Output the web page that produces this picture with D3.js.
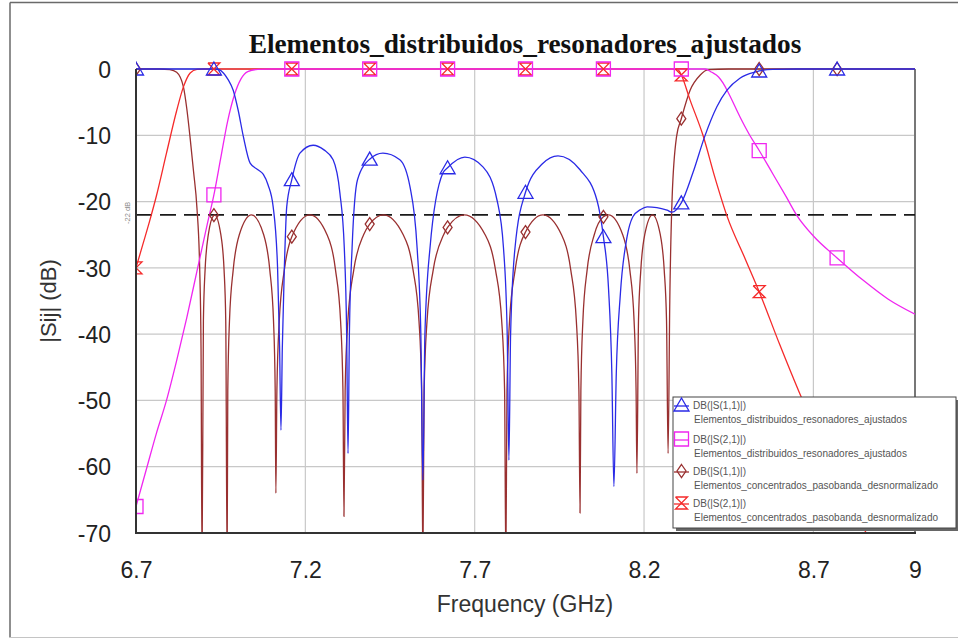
<!DOCTYPE html>
<html>
<head>
<meta charset="utf-8">
<script src="https://cdn.jsdelivr.net/npm/d3@7/dist/d3.min.js"></script>
<style>
  html, body { margin: 0; padding: 0; background: #fff; }
  svg { display: block; }
</style>
</head>
<body>
<svg id="chart" width="958" height="639"></svg>
<script>
// Axis ticks and reference level
const freqTicks = [6.7, 7.2, 7.7, 8.2, 8.7, 9];
const dbTicks = [0, -10, -20, -30, -40, -50, -60, -70];
const rippleLevel = -22;
const markerFreqs = [6.7, 6.93, 7.16, 7.39, 7.62, 7.85, 8.08, 8.31, 8.54, 8.77];

// DB(|S(1,1)|) - distributed elements, tuned resonators  [GHz, dB]
const s11Distribuidos = [
  [6.70, 0], [6.93, 0], [6.945, -0.1], [6.958, -0.6], [6.972, -1.6], [6.987, -3.2],
  [7.002, -6.3], [7.017, -10.2], [7.037, -14.2], [7.06, -15.2], [7.076, -15.9],
  [7.09, -17.5], [7.105, -20.8], [7.118, -30], [7.124, -42], [7.128, -54.5],
  [7.132, -42], [7.138, -30], [7.145, -20.8], [7.16, -16.7], [7.184, -12.7],
  [7.223, -11.5], [7.255, -12.2], [7.282, -13.7], [7.302, -18.7], [7.315, -27],
  [7.322, -40], [7.326, -58], [7.330, -40], [7.338, -27], [7.354, -16.7],
  [7.39, -13.6], [7.429, -12.7], [7.479, -13.7], [7.509, -17.8], [7.53, -27],
  [7.541, -40], [7.547, -62], [7.553, -40], [7.568, -27], [7.606, -15.7],
  [7.62, -14.9], [7.671, -13.3], [7.725, -14.8], [7.766, -19.8], [7.785, -27],
  [7.796, -40], [7.801, -59], [7.806, -40], [7.819, -27], [7.85, -18.6],
  [7.90, -14.3], [7.946, -13.1], [8.011, -15.2], [8.061, -19.8], [8.08, -25.3],
  [8.095, -33], [8.105, -46], [8.111, -63], [8.118, -46], [8.13, -34],
  [8.150, -25.3], [8.167, -22.3], [8.19, -21.2], [8.209, -20.8], [8.238, -20.9],
  [8.268, -21.3], [8.283, -21.6], [8.31, -20.2], [8.344, -15.7], [8.379, -10.2],
  [8.415, -5.7], [8.445, -3.2], [8.483, -1.4], [8.533, -0.4], [8.54, -0.3],
  [8.58, -0.05], [8.65, 0], [8.77, 0], [9.0, 0]
];

// DB(|S(2,1)|) - distributed elements, tuned resonators
const s21Distribuidos = [
  [6.70, -66], [6.73, -60.5], [6.76, -55], [6.79, -50], [6.82, -44], [6.85, -37.5],
  [6.88, -30.5], [6.91, -23.5], [6.93, -19], [6.95, -13.5], [6.97, -8], [6.99, -4],
  [7.01, -1.5], [7.03, -0.4], [7.06, -0.05], [7.10, 0], [7.16, 0], [7.39, 0],
  [7.62, 0], [7.85, 0], [8.08, 0], [8.31, 0], [8.38, 0], [8.40, -0.5], [8.42, -1.2],
  [8.433, -2.1], [8.45, -3.7], [8.483, -7.2], [8.51, -9.8], [8.54, -12.3],
  [8.58, -15.8], [8.62, -19.3], [8.65, -22], [8.70, -25.2], [8.77, -28.5],
  [8.85, -32], [8.92, -34.7], [9.0, -37]
];

// DB(|S(1,1)|) - lumped elements, denormalized bandpass
const s11Concentrados = [
  [6.70, 0], [6.77, 0], [6.80, -0.1], [6.82, -0.5], [6.84, -2.7], [6.85, -6],
  [6.86, -10.5], [6.87, -15.5], [6.88, -21], [6.888, -30], [6.892, -42], [6.895, -75],
  [6.899, -38], [6.904, -30.3], [6.9135, -25], [6.93, -22.05], [6.932, -22],
  [6.9505, -25], [6.960, -30.3], [6.965, -38], [6.969, -75],
  [6.971, -48.5], [6.976, -38], [6.987, -30.3], [7.005, -25], [7.041, -22],
  [7.077, -25], [7.095, -30.3], [7.106, -38], [7.111, -48.5], [7.113, -64],
  [7.116, -48.5], [7.123, -38], [7.138, -30.3], [7.16, -25.3], [7.2135, -22],
  [7.264, -25], [7.289, -30.3], [7.304, -38], [7.311, -48.5], [7.314, -67.5],
  [7.3175, -48.5], [7.3255, -38], [7.343, -30.3], [7.372, -25], [7.39, -23.4],
  [7.4305, -22], [7.489, -25], [7.518, -30.3], [7.5355, -38], [7.5435, -48.5], [7.547, -75],
  [7.5507, -48.5], [7.5593, -38], [7.5776, -30.3], [7.6083, -25], [7.62, -23.9],
  [7.6695, -22], [7.7308, -25], [7.7614, -30.3], [7.7797, -38], [7.7883, -48.5], [7.792, -75],
  [7.7953, -48.5], [7.8029, -38], [7.8194, -30.3], [7.85, -24.6], [7.9015, -22],
  [7.9563, -25], [7.9836, -30.3], [8.0001, -38], [8.0077, -48.5], [8.011, -67],
  [8.0135, -48.5], [8.0194, -38], [8.032, -30.3], [8.053, -25], [8.08, -22.3],
  [8.095, -22], [8.137, -25], [8.158, -30.3], [8.1706, -38], [8.1765, -48.5], [8.179, -61],
  [8.1836, -38], [8.1905, -30.3], [8.202, -25], [8.225, -22], [8.248, -25],
  [8.2595, -30.3], [8.2664, -38], [8.271, -58],
  [8.276, -35], [8.283, -19.3], [8.296, -10.2], [8.31, -7.5], [8.336, -3.2],
  [8.366, -0.9], [8.39, -0.1], [8.45, 0], [8.54, 0], [8.77, 0], [9.0, 0]
];

// DB(|S(2,1)|) - lumped elements, denormalized bandpass
const s21Concentrados = [
  [6.70, -30], [6.72, -26.5], [6.741, -22.8], [6.76, -19.2], [6.79, -12.7],
  [6.82, -6.3], [6.84, -2.7], [6.86, -0.6], [6.88, -0.05], [6.90, 0], [6.93, 0],
  [7.16, 0], [7.39, 0], [7.62, 0], [7.85, 0], [8.08, 0], [8.28, 0], [8.30, -0.1],
  [8.31, -0.9], [8.336, -4.7], [8.374, -10], [8.41, -16.5], [8.445, -22.2],
  [8.50, -28.8], [8.54, -33.6], [8.60, -41.5], [8.66, -49], [8.72, -56],
  [8.77, -61.5], [8.84, -68.5], [8.90, -74]
];

const legendNames = [
  ["DB(|S(1,1)|)", "Elementos_distribuidos_resonadores_ajustados"],
  ["DB(|S(2,1)|)", "Elementos_distribuidos_resonadores_ajustados"],
  ["DB(|S(1,1)|)", "Elementos_concentrados_pasobanda_desnormalizado"],
  ["DB(|S(2,1)|)", "Elementos_concentrados_pasobanda_desnormalizado"]
];

// Marker outlines, centred on the data point
const markerPaths = {
  triangle: "M0,-7L7.5,6L-7.5,6Z",
  square: "M-7,-7H7V7H-7Z",
  diamond: "M0,-6.5L4.5,0L0,6.5L-4.5,0Z",
  hourglass: "M-6,-6H6L-6,6H6L-6,-6"
};

const series = [
  { data: s11Distribuidos, color: "#2a2ae6", marker: "triangle", legend: legendNames[0], order: 3 },
  { data: s21Distribuidos, color: "#f026f0", marker: "square", legend: legendNames[1], order: 2 },
  { data: s11Concentrados, color: "#993030", marker: "diamond", legend: legendNames[2], order: 0 },
  { data: s21Concentrados, color: "#f52a2a", marker: "hourglass", legend: legendNames[3], order: 1 }
];

const svg = d3.select("#chart");
const W = 958, H = 639;
const plot = { left: 136, right: 915, top: 69, bottom: 533 };

const x = d3.scaleLinear().domain([6.7, 9.0]).range([plot.left, plot.right]);
const y = d3.scaleLinear().domain([-70, 0]).range([plot.bottom, plot.top]);

const sans = "'Liberation Sans', Arial, Helvetica, sans-serif";

// Outer frame
svg.append("line").attr("x1", 10).attr("y1", 2.5).attr("x2", W).attr("y2", 2.5)
  .attr("stroke", "#6a6a6a").attr("stroke-width", 1.5);
svg.append("line").attr("x1", 10).attr("y1", 2.5).attr("x2", 10).attr("y2", 637.5)
  .attr("stroke", "#6a6a6a").attr("stroke-width", 1.5);
svg.append("line").attr("x1", 10).attr("y1", 637.5).attr("x2", W).attr("y2", 637.5)
  .attr("stroke", "#c4c4c4").attr("stroke-width", 1.2);

// Title
svg.append("text")
  .attr("x", 525).attr("y", 53)
  .attr("text-anchor", "middle")
  .attr("font-family", "'Liberation Serif', 'Times New Roman', serif")
  .attr("font-weight", "bold")
  .attr("font-size", 27.3)
  .attr("fill", "#111")
  .text("Elementos_distribuidos_resonadores_ajustados");

// Grid
const grid = svg.append("g");
grid.selectAll("line.gx")
  .data(freqTicks.filter(f => f > 6.7 && f < 9))
  .join("line")
  .attr("x1", d => x(d)).attr("x2", d => x(d))
  .attr("y1", plot.top).attr("y2", plot.bottom)
  .attr("stroke", "#c8c8c8").attr("stroke-width", 1.2);
grid.selectAll("line.gy")
  .data(dbTicks.filter(v => v < 0 && v > -70))
  .join("line")
  .attr("x1", plot.left).attr("x2", plot.right)
  .attr("y1", d => y(d)).attr("y2", d => y(d))
  .attr("stroke", "#c8c8c8").attr("stroke-width", 1.2);

// Axes (labels only; the frame is drawn separately)
const xAxis = d3.axisBottom(x).tickValues(freqTicks).tickSize(0).tickPadding(0)
  .tickFormat(d => String(d));
const gx = svg.append("g").attr("transform", `translate(0,${plot.bottom})`).call(xAxis);
gx.select(".domain").remove();
gx.selectAll("text")
  .attr("y", 45).attr("dy", null)
  .attr("font-family", sans).attr("font-size", 23).attr("fill", "#222");

const yAxis = d3.axisLeft(y).tickValues(dbTicks).tickSize(0).tickPadding(0)
  .tickFormat(d => String(d));
const gy = svg.append("g").attr("transform", `translate(${plot.left},0)`).call(yAxis);
gy.select(".domain").remove();
gy.selectAll("text")
  .attr("x", -25).attr("dy", "0.36em")
  .attr("font-family", sans).attr("font-size", 23).attr("fill", "#222");

// Axis titles
svg.append("text")
  .attr("x", 525).attr("y", 612)
  .attr("text-anchor", "middle")
  .attr("font-family", sans).attr("font-size", 23).attr("fill", "#333")
  .text("Frequency (GHz)");
svg.append("text")
  .attr("transform", `translate(56,${(plot.top + plot.bottom) / 2}) rotate(-90)`)
  .attr("text-anchor", "middle")
  .attr("font-family", sans).attr("font-size", 22).attr("fill", "#333")
  .text("|Sij| (dB)");

// Clip region for the traces
svg.append("defs").append("clipPath").attr("id", "plot-clip")
  .append("rect")
  .attr("x", plot.left).attr("y", plot.top - 10)
  .attr("width", plot.right - plot.left).attr("height", plot.bottom - plot.top + 10);

// Plot frame
svg.append("line").attr("x1", plot.left).attr("x2", plot.right)
  .attr("y1", plot.top).attr("y2", plot.top).attr("stroke", "#888").attr("stroke-width", 1);
svg.append("line").attr("x1", plot.right).attr("x2", plot.right)
  .attr("y1", plot.top).attr("y2", plot.bottom).attr("stroke", "#777").attr("stroke-width", 2);

// -22 dB reference line
svg.append("line")
  .attr("x1", plot.left).attr("x2", plot.right)
  .attr("y1", y(rippleLevel)).attr("y2", y(rippleLevel))
  .attr("stroke", "#1a1a1a").attr("stroke-width", 1.6)
  .attr("stroke-dasharray", "16,8");
svg.append("text")
  .attr("transform", `translate(130,${y(rippleLevel) - 2}) rotate(-90)`)
  .attr("text-anchor", "middle")
  .attr("font-family", sans).attr("font-size", 7.5).attr("fill", "#8a8a8a")
  .text(rippleLevel + " dB");

// Traces
const line = d3.line()
  .x(d => x(d[0]))
  .y(d => y(d[1]))
  .curve(d3.curveMonotoneX);

const traces = svg.append("g").attr("clip-path", "url(#plot-clip)");
const drawOrder = series.slice().sort((a, b) => a.order - b.order);
drawOrder.forEach(s => {
  traces.append("path")
    .datum(s.data)
    .attr("d", line)
    .attr("fill", "none")
    .attr("stroke", s.color)
    .attr("stroke-width", 1.3)
    .attr("stroke-linejoin", "round");
});
drawOrder.forEach(s => {
  const pts = s.data.filter(d => markerFreqs.some(f => Math.abs(f - d[0]) < 1e-9));
  traces.selectAll(null)
    .data(pts)
    .join("path")
    .attr("transform", d => `translate(${x(d[0])},${y(d[1])})`)
    .attr("d", markerPaths[s.marker])
    .attr("fill", "none")
    .attr("stroke", s.color)
    .attr("stroke-width", 1.3);
});

// Left and bottom axis lines on top of traces
svg.append("line").attr("x1", plot.left).attr("x2", plot.left)
  .attr("y1", plot.top).attr("y2", plot.bottom + 1).attr("stroke", "#333").attr("stroke-width", 2);
svg.append("line").attr("x1", plot.left - 1).attr("x2", plot.right + 1)
  .attr("y1", plot.bottom).attr("y2", plot.bottom).attr("stroke", "#333").attr("stroke-width", 2);

// Legend
const lg = { x: 673, y: 397, w: 283, h: 131 };
const legend = svg.append("g");
legend.append("rect")
  .attr("x", lg.x + 3).attr("y", lg.y + 3).attr("width", lg.w).attr("height", lg.h)
  .attr("fill", "#666");
legend.append("rect")
  .attr("x", lg.x).attr("y", lg.y).attr("width", lg.w).attr("height", lg.h)
  .attr("fill", "#fff").attr("stroke", "#444").attr("stroke-width", 1);

const rowTop = [405, 439, 471, 503];
series.forEach((s, i) => {
  const cy = rowTop[i];
  const g = legend.append("g");
  g.append("line")
    .attr("x1", lg.x + 1).attr("x2", lg.x + 16)
    .attr("y1", cy + 1).attr("y2", cy + 1)
    .attr("stroke", s.color).attr("stroke-width", 1.3);
  g.append("path")
    .attr("transform", `translate(${lg.x + 8.5},${cy})`)
    .attr("d", markerPaths[s.marker])
    .attr("fill", "none").attr("stroke", s.color).attr("stroke-width", 1.3);
  g.append("text")
    .attr("x", lg.x + 20).attr("y", cy + 3.5)
    .attr("font-family", sans).attr("font-size", 10).attr("fill", "#555")
    .text(s.legend[0]);
  g.append("text")
    .attr("x", lg.x + 21).attr("y", cy + 18)
    .attr("font-family", sans).attr("font-size", 10).attr("fill", "#555")
    .text(s.legend[1]);
});
</script>
</body>
</html>
